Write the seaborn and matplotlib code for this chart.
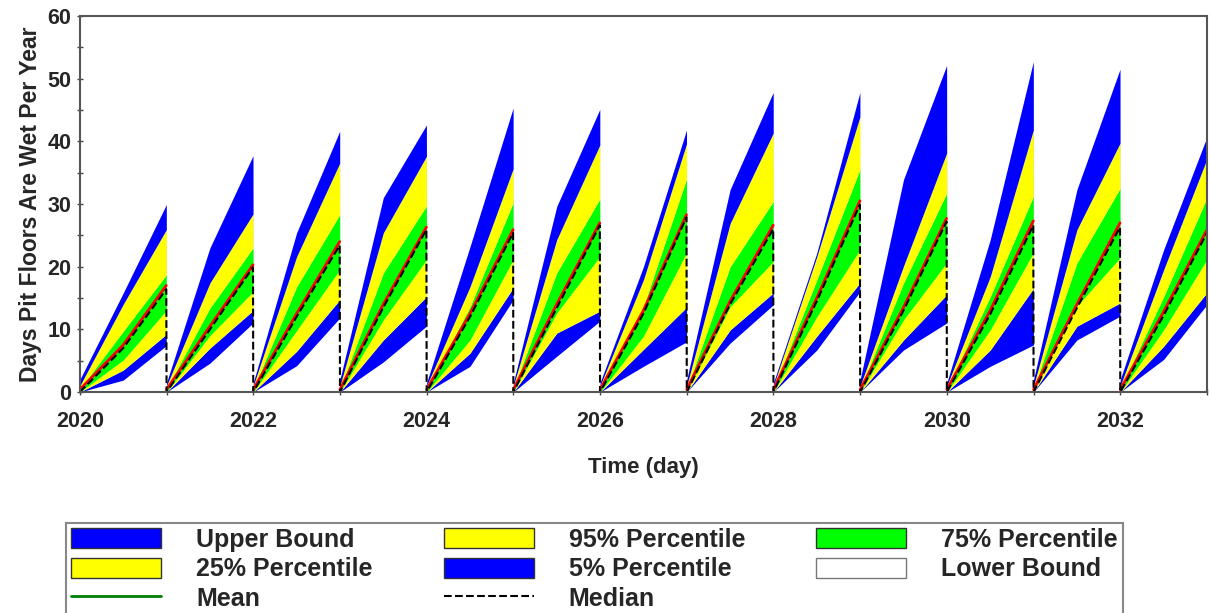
import numpy as np
import pandas as pd
import matplotlib
matplotlib.use("Agg")
import matplotlib.pyplot as plt
import seaborn as sns
from matplotlib.patches import Patch
from matplotlib.lines import Line2D
from matplotlib.ticker import MultipleLocator

# yearly sawtooth: value at Jan 1, mid-year and Dec 31 for each statistic
years = [2020, 2021, 2022, 2023, 2024, 2025, 2026, 2027, 2028, 2029, 2030, 2031, 2032]

upper_start = [2.0, 1.5, 1.5, 2.0, 1.5, 1.5, 1.5, 2.0, 1.5, 2.0, 1.5, 2.0, 2.0]
upper_mid = [15.8, 23.0, 25.4, 31.0, 23.2, 29.6, 20.0, 32.3, 22.2, 33.9, 24.3, 32.3, 22.7]
upper_end = [29.9, 37.7, 41.6, 42.6, 45.3, 45.1, 41.8, 47.8, 47.8, 52.1, 52.7, 51.5, 40.6]

p95_start = [1.0, 1.0, 1.0, 1.0, 1.0, 1.0, 1.0, 1.0, 1.0, 1.0, 1.0, 1.0, 1.0]
p95_mid = [14.0, 17.4, 21.6, 25.4, 16.8, 24.3, 17.9, 26.9, 21.6, 20.1, 18.4, 25.9, 19.5]
p95_end = [25.9, 28.4, 36.5, 37.6, 35.6, 39.4, 39.6, 41.3, 43.9, 38.1, 41.8, 39.7, 37.1]

p75_start = [0.5, 0.5, 0.5, 0.5, 0.5, 0.5, 0.5, 0.5, 0.5, 0.5, 0.5, 0.5, 0.5]
p75_mid = [9.7, 13.4, 16.8, 19.0, 13.6, 19.0, 13.6, 20.0, 17.9, 17.4, 15.2, 20.6, 15.2]
p75_end = [18.7, 23.0, 28.3, 29.7, 30.2, 30.8, 34.0, 30.4, 35.5, 31.7, 31.2, 32.5, 30.9]

mean_start = [0.4, 0.4, 0.4, 0.4, 0.4, 0.4, 0.4, 0.4, 0.4, 0.4, 0.4, 0.4, 0.4]
mean_mid = [7.5, 10.5, 12.5, 14.0, 12.5, 14.0, 13.0, 14.5, 15.0, 13.5, 13.0, 14.0, 12.8]
mean_end = [17.0, 20.3, 24.0, 26.3, 25.9, 27.0, 28.3, 26.6, 30.5, 27.7, 27.3, 27.0, 25.8]

median_start = [0.0, 0.0, 0.0, 0.0, 0.0, 0.0, 0.0, 0.0, 0.0, 0.0, 0.0, 0.0, 0.0]
median_mid = [7.0, 10.0, 12.0, 13.5, 12.0, 13.4, 12.5, 14.0, 14.5, 13.0, 12.4, 13.4, 12.2]
median_end = [16.4, 19.9, 23.4, 25.9, 25.4, 26.6, 27.9, 26.0, 29.9, 27.2, 26.6, 26.3, 25.3]

p25_start = [0.0, 0.0, 0.0, 0.0, 0.0, 0.0, 0.0, 0.0, 0.0, 0.0, 0.0, 0.0, 0.0]
p25_mid = [5.1, 9.0, 9.8, 11.5, 8.3, 12.6, 8.9, 13.6, 12.0, 11.5, 9.9, 13.7, 9.9]
p25_end = [13.0, 16.0, 19.5, 21.1, 21.1, 21.6, 22.2, 20.8, 22.7, 20.6, 22.2, 21.4, 21.1]

p5_start = [0.0, 0.0, 0.0, 0.0, 0.0, 0.0, 0.0, 0.0, 0.0, 0.0, 0.0, 0.0, 0.0]
p5_mid = [3.5, 7.0, 6.5, 8.3, 6.2, 9.4, 6.8, 9.9, 8.9, 8.3, 6.7, 10.5, 7.3]
p5_end = [9.2, 13.0, 14.7, 15.2, 16.6, 12.9, 13.5, 15.8, 17.4, 15.5, 16.5, 14.2, 15.8]

lower_start = [0.0, 0.0, 0.0, 0.0, 0.0, 0.0, 0.0, 0.0, 0.0, 0.0, 0.0, 0.0, 0.0]
lower_mid = [1.9, 4.6, 4.2, 4.8, 4.1, 5.7, 4.1, 7.8, 6.7, 6.7, 4.1, 8.3, 5.2]
lower_end = [7.4, 11.0, 11.8, 10.5, 14.7, 11.3, 8.0, 13.9, 16.0, 11.0, 7.5, 12.1, 13.9]


def series(start, mid, end):
    out = []
    for s, m, e in zip(start, mid, end):
        out += [s, m, e]
    return out


t = []
yr_col = []
for yr in years:
    t += [yr, yr + 0.5, yr + 0.997]
    yr_col += [yr] * 3

df = pd.DataFrame({
    "time": t,
    "year": yr_col,
    "upper": series(upper_start, upper_mid, upper_end),
    "p95": series(p95_start, p95_mid, p95_end),
    "p75": series(p75_start, p75_mid, p75_end),
    "mean": series(mean_start, mean_mid, mean_end),
    "median": series(median_start, median_mid, median_end),
    "p25": series(p25_start, p25_mid, p25_end),
    "p5": series(p5_start, p5_mid, p5_end),
    "lower": series(lower_start, lower_mid, lower_end),
})

BLUE = "#0000FF"
YELLOW = "#FFFF00"
GREEN = "#00FF00"

sns.set_theme(style="white")
plt.rcParams["font.family"] = ["Liberation Sans", "DejaVu Sans"]
plt.rcParams["font.weight"] = "bold"

fig = plt.figure(figsize=(12.1, 6.13), dpi=100)
ax = fig.add_axes([0.066, 0.3605, 0.9315, 0.6135])

# bands from the lower bound up to the upper bound
ax.fill_between(df["time"], df["lower"], df["p5"], color=BLUE, lw=0)
ax.fill_between(df["time"], df["p5"], df["p25"], color=YELLOW, lw=0)
ax.fill_between(df["time"], df["p25"], df["p75"], color=GREEN, lw=0)
ax.fill_between(df["time"], df["p75"], df["p95"], color=YELLOW, lw=0)
ax.fill_between(df["time"], df["p95"], df["upper"], color=BLUE, lw=0)

# mean drawn year by year (red), median continuous so the resets show dashed
for yr in years:
    sub = df[df["year"] == yr]
    sns.lineplot(data=sub, x="time", y="mean", ax=ax, color="red", lw=2,
                 estimator=None, legend=False)
sns.lineplot(data=df, x="time", y="median", ax=ax, color="black", lw=1.5,
             linestyle="--", estimator=None, legend=False)

ax.set_xlim(2020, 2033)
ax.set_ylim(0, 60)
ax.xaxis.set_minor_locator(MultipleLocator(1))
ax.yaxis.set_major_locator(MultipleLocator(10))
ax.yaxis.set_minor_locator(MultipleLocator(5))
ax.tick_params(axis="both", which="both", direction="inout", length=5, width=1,
               color="#444444", labelsize=15.5, bottom=True, left=True)
ax.tick_params(axis="x", which="major", pad=11)
ax.set_xticks(range(2020, 2033, 2))
ax.set_xticklabels([str(y) for y in range(2020, 2033, 2)], fontweight="bold")
for lab in ax.get_yticklabels():
    lab.set_fontweight("bold")

ax.set_xlabel("Time (day)", fontsize=16, fontweight="bold", labelpad=18)
ax.set_ylabel("Days Pit Floors Are Wet Per Year", fontsize=16.5, fontweight="bold", labelpad=4)
for sp in ax.spines.values():
    sp.set_color("#555555")
    sp.set_linewidth(1.5)

handles = [
    Patch(facecolor=BLUE, edgecolor="#333333", label="Upper Bound"),
    Patch(facecolor=YELLOW, edgecolor="#333333", label="25% Percentile"),
    Line2D([], [], color="green", lw=2, label="Mean"),
    Patch(facecolor=YELLOW, edgecolor="#333333", label="95% Percentile"),
    Patch(facecolor=BLUE, edgecolor="#333333", label="5% Percentile"),
    Line2D([], [], color="black", lw=1.5, linestyle="--", label="Median"),
    Patch(facecolor=GREEN, edgecolor="#333333", label="75% Percentile"),
    Patch(facecolor="white", edgecolor="#777777", label="Lower Bound"),
]
leg = fig.legend(handles=handles, ncol=3, loc="upper left",
                 bbox_to_anchor=(0.0545, 0.147), frameon=True, fancybox=False,
                 edgecolor="#888888", framealpha=1, borderpad=0.2,
                 prop={"size": 18, "weight": "bold"}, handlelength=3.6,
                 handleheight=0.88, handletextpad=1.4, columnspacing=2.85,
                 labelspacing=0.22, borderaxespad=0)
leg.get_frame().set_linewidth(1.5)

fig.savefig("out.png", dpi=100)
